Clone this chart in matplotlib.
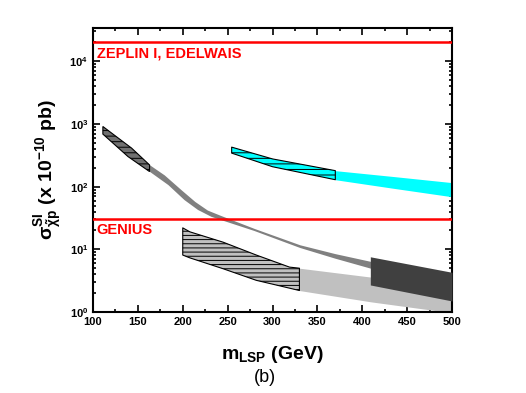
import matplotlib
matplotlib.use("Agg")
import matplotlib.pyplot as plt
from matplotlib.ticker import MultipleLocator, LogLocator, NullFormatter
import numpy as np

plt.rcParams['font.family'] = ['Liberation Sans', 'DejaVu Sans']
plt.rcParams['mathtext.fontset'] = 'custom'
plt.rcParams['mathtext.rm'] = 'Liberation Sans:bold'
plt.rcParams['mathtext.bf'] = 'Liberation Sans:bold'
plt.rcParams['mathtext.it'] = 'Liberation Sans:bold'
plt.rcParams['mathtext.default'] = 'bf'
plt.rcParams['hatch.linewidth'] = 0.7

# Dark hatched band (low mass)
dark_top_x = [111, 143, 163]
dark_top_y = [912, 412, 222]
dark_bot_x = [111, 139, 163]
dark_bot_y = [690, 302, 174]

# Medium gray band continuing to a thin line
gray_top_x = [163, 180, 199, 214, 228, 243, 280, 331, 370, 410]
gray_top_y = [222, 151, 87, 57, 41.5, 34, 21.2, 11.6, 8.4, 6.3]
gray_bot_x = [163, 184, 202, 217, 232, 247, 280, 331, 370, 410]
gray_bot_y = [174, 106, 61, 42.5, 33, 28, 19.6, 10.5, 7.1, 4.9]

# Light gray hatched polygon
lhatch_x = [200, 208, 245, 282, 319, 330]
lhatch_top = [22, 19, 13, 8.1, 5.2, 5.0]
lhatch_bot = [8.1, 7.3, 4.9, 3.2, 2.4, 2.2]

# Light gray band continuation
light_x = [330, 410, 500]
light_top = [5.0, 3.6, 2.4]
light_bot = [2.2, 1.45, 0.97]

# Dark block
block_x = [409, 500]
block_top = [7.6, 4.3]
block_bot = [2.7, 1.5]

# Cyan hatched and plain bands
cyan_hatch_x = [254.5, 300, 370]
cyan_hatch_top = [427, 277, 180]
cyan_hatch_bot = [343, 208, 129]
cyan_x = [370, 435, 500]
cyan_top = [180, 145, 116]
cyan_bot = [129, 94, 69]

# Experimental limits
limits = [2e4, 30]
limit_labels = ["ZEPLIN I, EDELWAIS", "GENIUS"]
limit_label_y = [1.75e4, 26.5]

fig = plt.figure(figsize=(5.26, 3.93), dpi=100)
ax = fig.add_axes([93/526, 1-312/393, (452-93)/526, (312-28)/393])
ax.set_yscale('log')
ax.set_xlim(100, 500)
ax.set_ylim(1, 3.4e4)


def band(xt, yt, xb, yb, **kw):
    ax.fill(list(xt) + list(xb)[::-1], list(yt) + list(yb)[::-1], **kw)


ax.fill_between(light_x, light_bot, light_top, color='#c0c0c0', lw=0, zorder=2)
ax.fill_between(lhatch_x, lhatch_bot, lhatch_top, facecolor='#c0c0c0', edgecolor='black',
                hatch='----', lw=0.8, zorder=3)
band(gray_top_x, gray_top_y, gray_bot_x, gray_bot_y, facecolor='#808080', lw=0, zorder=2)
band(dark_top_x, dark_top_y, dark_bot_x, dark_bot_y, facecolor='#707070', edgecolor='black',
     hatch='---', lw=0.8, zorder=3)
ax.fill_between(block_x, block_bot, block_top, color='#404040', lw=0, zorder=4)
ax.fill_between(cyan_x, cyan_bot, cyan_top, color='#00ffff', lw=0, zorder=2)
ax.fill_between(cyan_hatch_x, cyan_hatch_bot, cyan_hatch_top, facecolor='#00ffff', edgecolor='black',
                hatch='---', lw=0.8, zorder=3)

for v, lab, ly in zip(limits, limit_labels, limit_label_y):
    ax.axhline(v, color='#ff0000', lw=1.8, zorder=5)
    ax.text(104, ly, lab, color='#ff0000', fontsize=10.5, fontweight='bold', va='top', ha='left', zorder=6)

ax.xaxis.set_major_locator(MultipleLocator(50))
ax.xaxis.set_minor_locator(MultipleLocator(25))
ax.yaxis.set_major_locator(LogLocator(base=10, numticks=10))
ax.yaxis.set_minor_locator(LogLocator(base=10, subs=np.arange(2, 10), numticks=20))
ax.yaxis.set_minor_formatter(NullFormatter())
ax.tick_params(which='both', direction='in', top=True, right=True, width=1.2)
ax.tick_params(which='major', length=5, labelsize=8)
ax.tick_params(which='minor', length=2.5)
for lbl in ax.get_xticklabels() + ax.get_yticklabels():
    lbl.set_fontweight('bold')
for s in ax.spines.values():
    s.set_linewidth(1.5)

ax.set_xlabel(r'$\mathregular{m_{LSP}}$ (GeV)', fontsize=14, fontweight='bold', labelpad=12)
ax.set_ylabel(r'$\mathregular{\sigma^{SI}_{\tilde{\chi}p}}$ (x 10$^{\mathregular{-10}}$ pb)', fontsize=14,
              fontweight='bold', labelpad=4)
fig.text(265/526, 1-378/393, '(b)', fontsize=13, ha='center', va='center')

fig.savefig('out.png', dpi=100)
